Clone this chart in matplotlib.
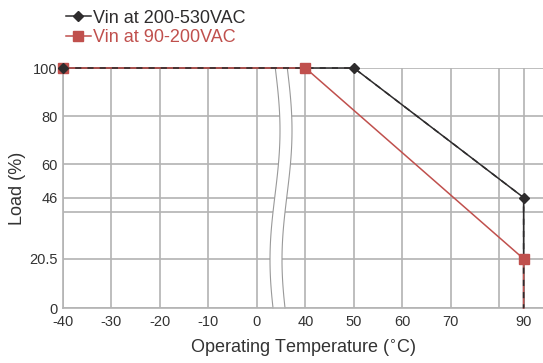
import numpy as np
import matplotlib
matplotlib.use("Agg")
import matplotlib.pyplot as plt
from matplotlib.patches import Polygon

plt.rcParams['font.family'] = ['Liberation Sans', 'DejaVu Sans']

# derating curves (temperature in degC, load in %)
temp_hi = [-40, 50, 90, 90]
load_hi = [100, 100, 46, 0]
temp_lo = [-40, 40, 90, 90]
load_lo = [100, 100, 20.5, 0]
mark_hi_t = [-40, 50, 90]
mark_hi_l = [100, 100, 46]
mark_lo_t = [-40, 40, 90]
mark_lo_l = [100, 100, 20.5]

xticks = [-40, -30, -20, -10, 0, 40, 50, 60, 70, 80, 90]
xlabels = ['-40', '-30', '-20', '-10', '0', '40', '50', '60', '70', '', '90']
yticks = [0, 20.5, 40, 46, 60, 80, 100]
ylabels = ['0', '20.5', '', '46', '60', '80', '100']

BLACK = '#2e2c2d'
RED = '#c0504d'
GRID = '#b3b3b3'

# broken axis: 0..40 squeezed, 80..90 half width
real_pts = [-200, 0, 40, 80, 300]
pos_pts = [-200, 0, 10, 50, 160]

def fwd(x):
    return np.interp(x, real_pts, pos_pts)

def inv(p):
    return np.interp(p, pos_pts, real_pts)

fig = plt.figure(figsize=(5.43, 3.63), dpi=100)
ax = fig.add_axes([63/543, 55/363, 480/543, 240/363])
ax.set_xscale('function', functions=(fwd, inv))
ax.set_xlim(-40, 98)
ax.set_ylim(0, 100)

ax.set_xticks(xticks)
ax.set_xticklabels(xlabels)
ax.set_yticks(yticks)
ax.set_yticklabels(ylabels)
ax.tick_params(length=0, labelsize=10.5, colors='#333333')
ax.tick_params(axis='x', pad=5)
ax.tick_params(axis='y', pad=4)
ax.grid(True, color=GRID, linewidth=1.2)
ax.set_axisbelow(True)
for s in ['top', 'right']:
    ax.spines[s].set_visible(False)
for s in ['left', 'bottom']:
    ax.spines[s].set_color(GRID)
    ax.spines[s].set_linewidth(1.2)

# wavy break band
t = np.linspace(0, 1, 100)
c_px = 281 - 5 * np.cos(2 * np.pi * (t - 0.2) / 1.08)
left = (c_px - 6 - 63) / 480
right = (c_px + 6 - 63) / 480
poly = Polygon(np.column_stack([np.r_[left, right[::-1]], np.r_[t, t[::-1]]]),
               closed=True, facecolor='white', edgecolor='none',
               transform=ax.transAxes, zorder=1.5, clip_on=False)
ax.add_patch(poly)
ax.plot(left, t, color='#999999', lw=0.8, transform=ax.transAxes, zorder=1.6, clip_on=False)
ax.plot(right, t, color='#999999', lw=0.8, transform=ax.transAxes, zorder=1.6, clip_on=False)

ax.plot(temp_hi, load_hi, color=BLACK, lw=1.1, zorder=3, clip_on=False)
ax.plot(temp_lo, load_lo, color=RED, lw=1.1, zorder=4, clip_on=False)
ax.plot(temp_hi, load_hi, color=BLACK, lw=1.1, ls=(0, (4, 4)), zorder=5, clip_on=False)
ax.plot(mark_lo_t, mark_lo_l, ls='none', marker='s', ms=7.5, color=RED, zorder=6, clip_on=False)
ax.plot(mark_hi_t, mark_hi_l, ls='none', marker='D', ms=5, color=BLACK, zorder=7, clip_on=False)

ax.set_ylabel('Load (%)', fontsize=13, color='#333333', labelpad=2)
ax.set_xlabel('Operating Temperature ($^{\\circ}$C)', fontsize=13, color='#333333', labelpad=6)

h1, = ax.plot([], [], color=BLACK, lw=1.1, marker='D', ms=5)
h2, = ax.plot([], [], color=RED, lw=1.1, marker='s', ms=7.5)
fig.legend([h1, h2], ['Vin at 200-530VAC', 'Vin at 90-200VAC'],
           loc='upper left', bbox_to_anchor=(53/543, 1 + 3/363), frameon=False,
           fontsize=13, handlelength=1.4, handletextpad=0.1, labelspacing=0.15,
           borderpad=0.2, labelcolor=[BLACK, RED])

fig.savefig('out.png', dpi=100)
